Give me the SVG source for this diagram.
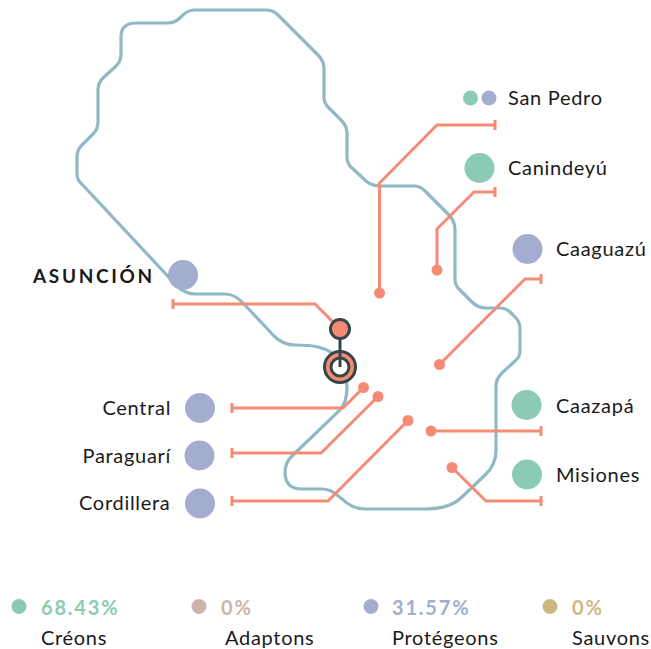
<svg xmlns="http://www.w3.org/2000/svg" width="651" height="649" viewBox="0 0 651 649">
<style>
text{font-family:Lato,"Liberation Sans",sans-serif;fill:#1a1a1a}
.lb{font-size:20px;letter-spacing:.7px}
.pc{font-size:20px;font-weight:700;letter-spacing:1.8px}
.b{fill:#a3add0}.g{fill:#8ccbb3}
.c{fill:none;stroke:#f68b75;stroke-width:3}
.d{fill:#f68b75}
</style>
<path id="outline" d="M79 181Q77 178 77 172V157Q77 150 82 145L92 135Q98 130 98 122V90Q98 83 103 78L115 67Q121 62 121 54V37Q121 23 136 23H168Q175 23 181 17Q187 10 194 10H266Q273 10 278 15L318 55Q324 61 324 68V97Q324 103 328 107L341 120Q347 126 347 133V157Q347 163 351 167L366 181Q372 186 380 186H414Q420 186 425 191L449 215Q455 221 455 230V279Q455 285 459 289L472 302Q478 308 486 308H500Q506 308 510 312L514 316Q520 321 520 329V351Q520 357 515 361L502 373Q496 379 496 386V450Q496 465 485 475L462 497Q450 509 425 509H365Q355 509 347 503L337 495Q330 489 322 489H302Q285 489 285 472Q285 463 292 456L340 410Q347 402 347 388Q347 354 318 347Q310 345 295 345Q283 345 274 336L244 304Q235 294 225 294H196Q186 294 178 287Z" fill="none" stroke="#8fb9c4" stroke-width="3.200"/>
<g id="connectors">
<path class="c" d="M495 125H437L379.500 183V293M495 120V130"/>
<path class="c" d="M495 192H474L437 229V270M495 187V197"/>
<path class="c" d="M541 279H525L439.500 364.500M541 274V284"/>
<path class="c" d="M173 304H315L340 329M173 299V309"/>
<path class="c" d="M232 408H343L363.500 387.500M232 403V413"/>
<path class="c" d="M232 453H321L378 396.500M232 448V458"/>
<path class="c" d="M232 501H328L408 420.500M232 496V506"/>
<path class="c" d="M431 431H541M541 426V436"/>
<path class="c" d="M452 467.500L486 501H541M541 496V506"/>
<circle class="d" cx="379.500" cy="293" r="5.500"/>
<circle class="d" cx="437" cy="270" r="5.500"/>
<circle class="d" cx="439.500" cy="364.500" r="5.500"/>
<circle class="d" cx="363.500" cy="387.500" r="5.500"/>
<circle class="d" cx="378" cy="396.500" r="5.500"/>
<circle class="d" cx="408" cy="420.500" r="5.500"/>
<circle class="d" cx="431" cy="431" r="5.500"/>
<circle class="d" cx="452" cy="467.500" r="5.500"/>
</g>
<g id="asuncion-marker">
<path d="M340 329V367" fill="none" stroke="#36454a" stroke-width="3"/>
<circle cx="340" cy="329" r="9.500" fill="#f68b75" stroke="#36454a" stroke-width="3"/>
<circle cx="340" cy="367" r="15.500" fill="#f68b75" stroke="#36454a" stroke-width="3"/>
<circle cx="340" cy="367" r="9" fill="#fff" stroke="#36454a" stroke-width="3"/>
<path d="M340 350V367" fill="none" stroke="#36454a" stroke-width="3"/>
</g>
<g id="san-pedro"><circle class="g" cx="470.500" cy="98" r="7.500"/><circle class="b" cx="489" cy="98" r="7.500"/><text class="lb" x="508" y="105">San Pedro</text></g>
<g id="canindeyu"><circle class="g" cx="479.500" cy="168" r="15"/><text class="lb" x="508" y="175">Canindeyú</text></g>
<g id="caaguazu"><circle class="b" cx="527.500" cy="249" r="15"/><text class="lb" x="556" y="256">Caaguazú</text></g>
<g id="caazapa"><circle class="g" cx="526.500" cy="405" r="15"/><text class="lb" x="556" y="413">Caazapá</text></g>
<g id="misiones"><circle class="g" cx="527" cy="474.500" r="15"/><text class="lb" x="556" y="482">Misiones</text></g>
<g id="asuncion"><circle class="b" cx="183" cy="275" r="15"/><text x="33" y="283" font-size="19" font-weight="700" letter-spacing="2.650">ASUNCIÓN</text></g>
<g id="central"><circle class="b" cx="200" cy="408" r="15"/><text class="lb" x="102.500" y="415">Central</text></g>
<g id="paraguari"><circle class="b" cx="199.500" cy="455.500" r="15"/><text class="lb" x="82.500" y="463">Paraguarí</text></g>
<g id="cordillera"><circle class="b" cx="200" cy="503.500" r="15"/><text class="lb" x="79" y="510">Cordillera</text></g>
<g id="legend">
<circle cx="19" cy="606.500" r="7.500" fill="#8ccbb3"/><text class="pc" x="41" y="615" style="fill:#8ccbb3">68.43%</text><text class="lb" x="41" y="645">Créons</text>
<circle cx="199" cy="606.500" r="7.500" fill="#cfb2aa"/><text class="pc" x="221" y="615" style="fill:#cfb2aa">0%</text><text class="lb" x="225" y="645">Adaptons</text>
<circle cx="371" cy="606.500" r="7.500" fill="#a3add0"/><text class="pc" x="392" y="615" style="fill:#a3add0">31.57%</text><text class="lb" x="392" y="645">Protégeons</text>
<circle cx="550" cy="606.500" r="7.500" fill="#cdb883"/><text class="pc" x="572" y="615" style="fill:#cdb883">0%</text><text class="lb" x="572" y="645">Sauvons</text>
</g>
</svg>
